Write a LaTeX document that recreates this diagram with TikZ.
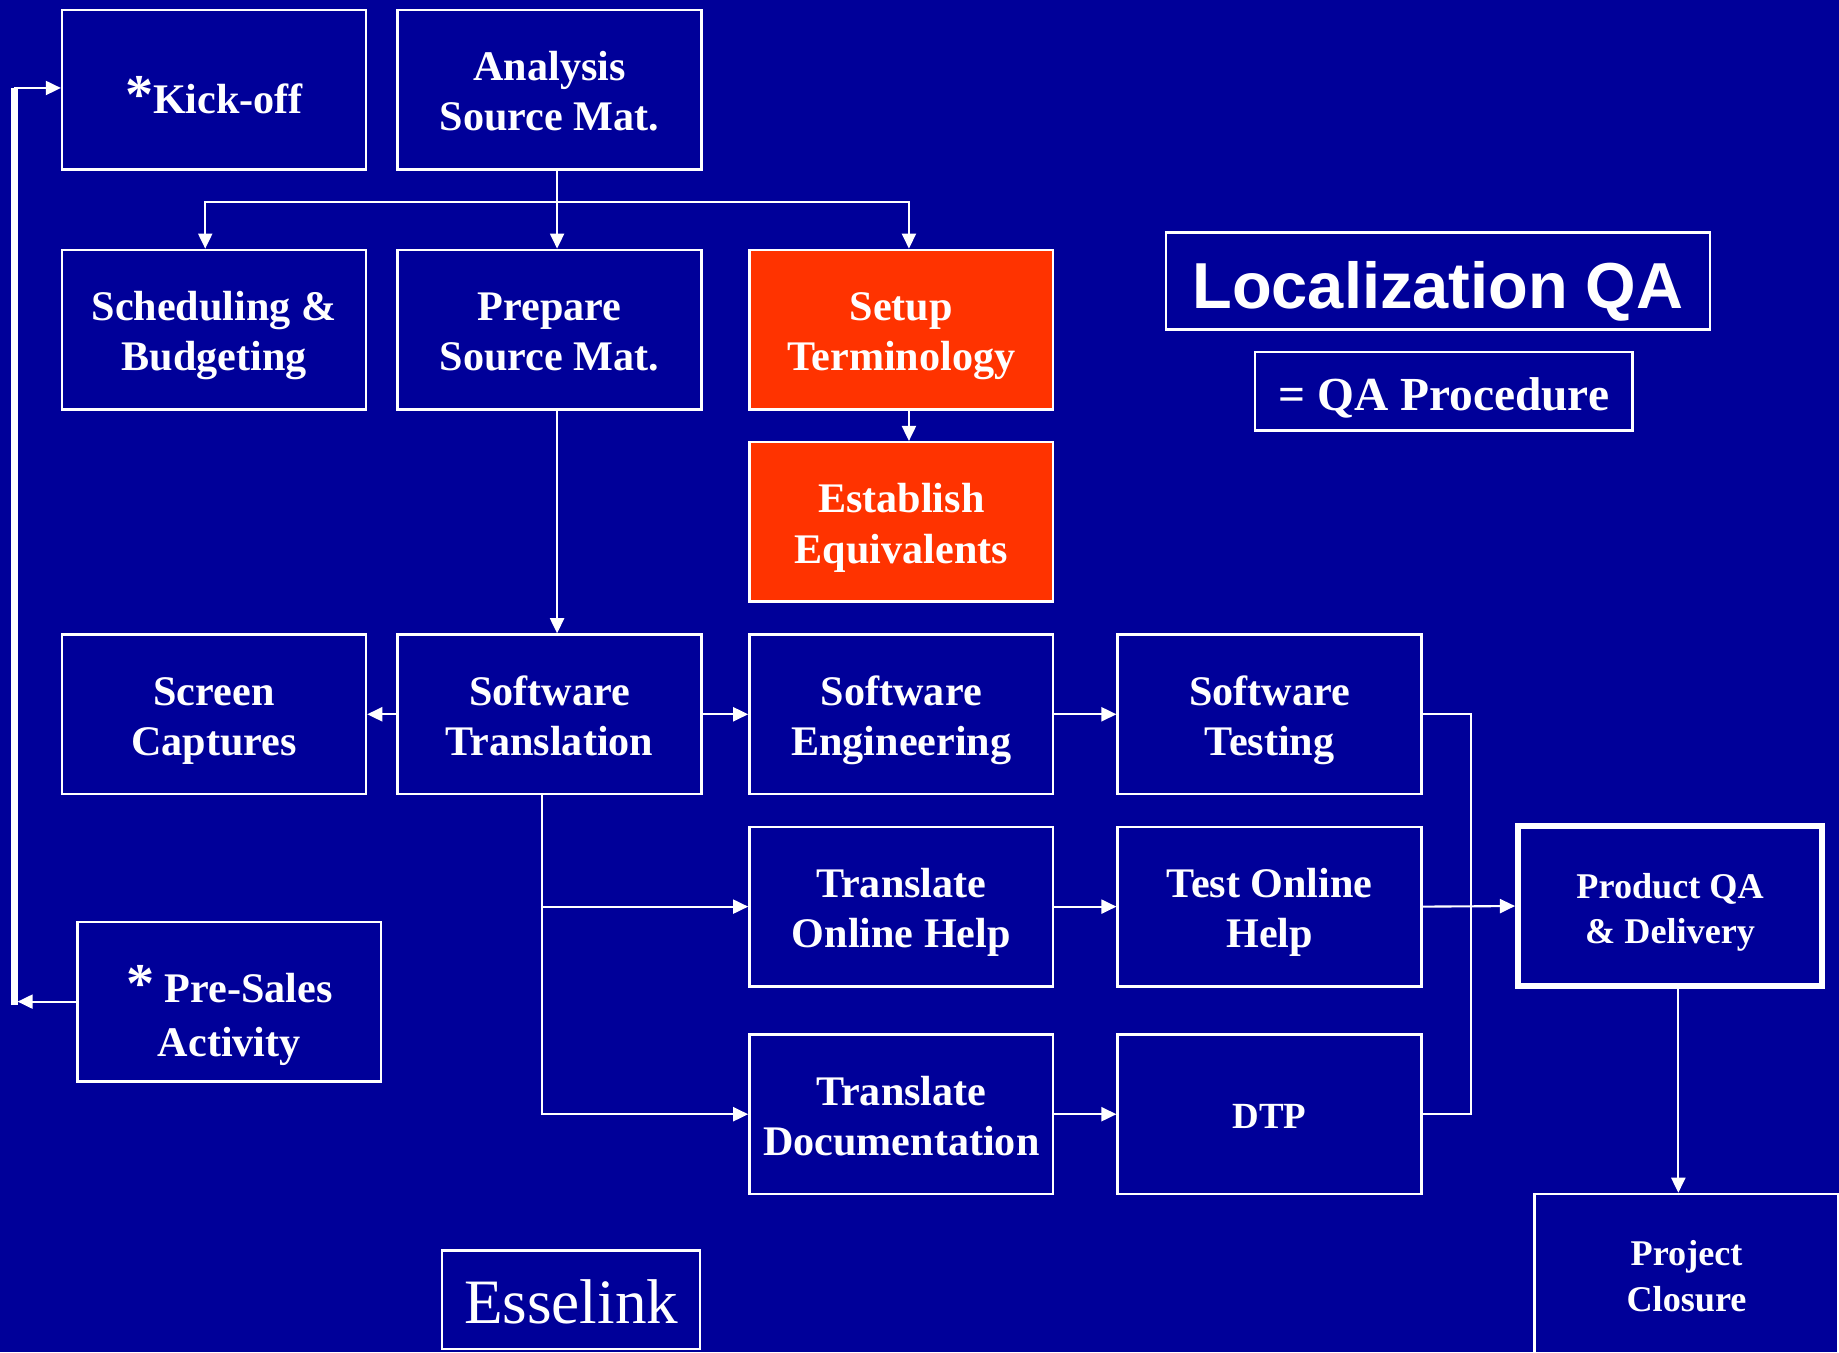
\documentclass[tikz,border=0pt]{standalone}
\usepackage{fontspec}
\setmainfont{Liberation Serif}
\newfontfamily\headfont{Liberation Sans}
\usetikzlibrary{arrows.meta,calc}

\definecolor{bgblue}{RGB}{0,0,153}
\definecolor{termred}{RGB}{255,51,0}
\newcommand{\astmark}{{\fontsize{16}{16}\selectfont*}}
\newcommand{\footstrut}{\rule[-0.25em]{0pt}{0.25em}}
\newcommand{\lowh}{2.2em}

\begin{document}
\begin{tikzpicture}[x=0.011728cm, y=-0.011728cm]
    \pgfmathsetmacro{\bw}{3.04}
    \pgfmathsetmacro{\bh}{1.595}
    \tikzset{
        low/.code={\def\lowh{#1}},
        box/.style={draw=white, line width=0.7pt, fill=bgblue, text=white,
            minimum width=\bw cm, minimum height=\bh cm, inner sep=0pt,
            align=center, font=\bfseries\fontsize{12}{14.3}\selectfont,
            low=2.2em, execute at begin node={\rule{0pt}{\lowh}},
            execute at end node=\footstrut},
        term/.style={box, fill=termred},
        small/.style={low=2.33em, font=\bfseries\fontsize{10.3}{13}\selectfont},
        wire/.style={draw=white, line width=0.6pt},
        arr/.style={wire, -{Triangle[length=4.3pt,width=4pt]}},
        rail/.style={draw=white, line width=2pt}
    }
    \useasboundingbox (0,0) rectangle (1568,1153);
    \fill[bgblue] (0,0) rectangle (1568,1153);

    \node[box, low=1.4em] (kickoff) at (182.5,76.5) {\astmark Kick-off};
    \node[box] (analysis) at (468.5,76.5) {Analysis\\Source Mat.};
    \node[box] (sched) at (182.5,281) {Scheduling \&\\Budgeting};
    \node[box] (prepare) at (468.5,281) {Prepare\\Source Mat.};
    \node[term] (setup) at (768.5,281) {Setup\\Terminology};
    \node[term] (establish) at (768.5,445) {Establish\\Equivalents};
    \node[box] (screen) at (182.5,609) {Screen\\Captures};
    \node[box] (swtrans) at (468.5,609) {Software\\Translation};
    \node[box] (sweng) at (768.5,609) {Software\\Engineering};
    \node[box] (swtest) at (1082.5,609) {Software\\Testing};
    \node[box] (transhelp) at (768.5,773) {Translate\\Online Help};
    \node[box] (testhelp) at (1082.5,773) {Test Online\\Help};
    \node[box] (transdoc) at (768.5,950) {Translate\\Documentation};
    \node[box, low=1.03em, font=\bfseries\fontsize{10.5}{13}\selectfont] (dtp) at (1082.5,950) {DTP};
    \node[box, small, line width=1.8pt] (prodqa) at (1424,772.5) {Product QA\\\& Delivery};
    \node[box, small] (closure) at (1438,1086) {Project\\Closure};
    \node[box, low=2.86em, font=\bfseries\fontsize{12}{15.4}\selectfont] (presales) at (195.5,854) {\astmark\ Pre-Sales\\Activity};

    \node[box, low=1.1em, minimum width=5.44cm, minimum height=0.97cm,
        font=\headfont\bfseries\fontsize{18.5}{20}\selectfont] (title) at (1226,239.5) {Localization QA};
    \node[box, low=1.06em, minimum width=3.78cm, minimum height=0.786cm,
        font=\bfseries\fontsize{13.5}{15}\selectfont] (legend) at (1231,333.5) {= QA Procedure};
    \node[box, low=1.02em, minimum width=2.58cm, minimum height=0.985cm,
        font=\fontsize{18}{20}\selectfont] (esselink) at (487,1108) {Esselink};

    \coordinate (abus) at ($(analysis.south)+(6.5,27)$);
    \draw[wire] ($(analysis.south)+(6.5,0)$) -- (abus);
    \draw[arr] (abus) -- (abus |- prepare.north);
    \draw[arr] (abus) -| ($(sched.north)+(-7.5,0)$);
    \draw[arr] (abus) -| ($(setup.north)+(6.5,0)$);
    \draw[arr] ($(setup.south)+(6.5,0)$) -- ($(establish.north)+(6.5,0)$);
    \draw[arr] ($(prepare.south)+(6.5,0)$) -- ($(swtrans.north)+(6.5,0)$);

    \draw[arr] (swtrans.west) -- (screen.east);
    \foreach \a/\b in {swtrans/sweng, sweng/swtest, transhelp/testhelp, transdoc/dtp}{
        \draw[arr] (\a.east) -- (\b.west);
    }
    \coordinate (tdrop) at ($(swtrans.south)+(-6.5,0)$);
    \draw[arr] (tdrop) |- (transhelp.west);
    \draw[arr] (tdrop) |- (transdoc.west);

    \draw[wire] (swtest.east) -- ++(41,0) |- (dtp.east);
    \draw[arr] (testhelp.east) -- (prodqa.west);
    \coordinate (qdrop) at ($(prodqa.south)+(7,0)$);
    \draw[arr] (qdrop) -- (qdrop |- closure.north);

    \coordinate (railtop) at (12,75);
    \coordinate (railbot) at (12,857);
    \draw[rail] (railbot) -- (railtop);
    \draw[arr] (railtop) -- (kickoff.west |- railtop);
    \draw[arr, shorten >=1pt] (presales.west) -- (presales.west -| railbot);
\end{tikzpicture}
\end{document}
